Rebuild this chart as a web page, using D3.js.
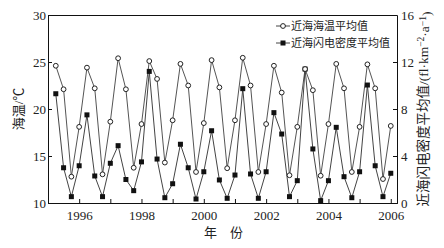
<!DOCTYPE html>
<html>
<head>
<meta charset="utf-8">
<script src="https://cdn.jsdelivr.net/npm/d3@7.9.0/dist/d3.min.js"></script>
<style>
  body { margin: 0; background: #fff; }
  svg text { font-family: 'Liberation Serif', 'Noto Sans CJK SC', serif; fill: #222; }
</style>
</head>
<body>
<div id="chart"></div>
<script>
// quarterly positions (year fraction)
const periods = [1995.25, 1995.5, 1995.75, 1996.0, 1996.25, 1996.5, 1996.75, 1997.0,
  1997.25, 1997.5, 1997.75, 1998.0, 1998.25, 1998.5, 1998.75, 1999.0,
  1999.25, 1999.5, 1999.75, 2000.0, 2000.25, 2000.5, 2000.75, 2001.0,
  2001.25, 2001.5, 2001.75, 2002.0, 2002.25, 2002.5, 2002.75, 2003.0,
  2003.25, 2003.5, 2003.75, 2004.0, 2004.25, 2004.5, 2004.75, 2005.0,
  2005.25, 2005.5, 2005.75, 2006.0];

// 近海海温平均值 (℃)
const seaTemp = [24.6, 22.1, 12.8, 18.1, 24.4, 22.2, 13.05, 18.65,
  25.4, 22.1, 13.75, 18.4, 25.1, 23.2, 14.3, 18.8,
  24.8, 22.5, 13.3, 18.5, 25.2, 22.3, 13.7, 18.8,
  25.45, 22.5, 13.3, 18.4, 24.6, 21.75, 12.95, 18.1,
  24.25, 22.0, 12.9, 18.4, 24.8, 22.2, 13.3, 18.1,
  24.75, 22.2, 12.55, 18.2];

// 近海闪电密度平均值
const flashDensity = [9.3, 3.0, 0.54, 3.17, 7.5, 2.3, 0.54, 3.38,
  4.88, 2.0, 1.05, 3.5, 11.2, 3.74, 0.45, 1.64,
  5.0, 3.0, 0.34, 2.66, 6.15, 1.96, 0.4, 2.38,
  9.73, 2.47, 0.4, 2.66, 7.69, 5.87, 0.54, 1.9,
  11.4, 4.6, 0.2, 1.9, 6.44, 2.24, 0.45, 2.66,
  10.04, 3.17, 0.54, 2.53];

const yearTicks = [1996, 1997, 1998, 1999, 2000, 2001, 2002, 2003, 2004, 2005, 2006];
const tempTicks = [10, 15, 20, 25, 30];
const densityTicks = [0, 4, 8, 12, 16];
const legendNames = ['近海海温平均值', '近海闪电密度平均值'];

const width = 444, height = 248;
const margin = { top: 15, right: 47, bottom: 45, left: 48 };

const svg = d3.select('#chart').append('svg')
  .attr('width', width)
  .attr('height', height);

const x = d3.scaleLinear().domain([1995, 2006.2]).range([margin.left, width - margin.right]);
const yT = d3.scaleLinear().domain([10, 30]).range([height - margin.bottom, margin.top]);
const yD = d3.scaleLinear().domain([0, 16]).range([height - margin.bottom, margin.top]);

// frame top line
svg.append('line')
  .attr('x1', margin.left).attr('x2', width - margin.right)
  .attr('y1', margin.top + 0.5).attr('y2', margin.top + 0.5)
  .attr('stroke', '#111');

// axes
const xAxis = svg.append('g')
  .attr('transform', `translate(0, ${height - margin.bottom})`)
  .call(d3.axisBottom(x).tickValues(yearTicks).tickSize(-4).tickPadding(8)
    .tickFormat((d) => (d % 2 === 0 ? d : '')));
const leftAxis = svg.append('g')
  .attr('transform', `translate(${margin.left}, 0)`)
  .call(d3.axisLeft(yT).tickValues(tempTicks).tickSize(-4).tickPadding(2));
const rightAxis = svg.append('g')
  .attr('transform', `translate(${width - margin.right}, 0)`)
  .call(d3.axisRight(yD).tickValues(densityTicks).tickSize(-4).tickPadding(4));

[xAxis, leftAxis, rightAxis].forEach((g) => {
  g.select('.domain').attr('stroke', '#111');
  g.selectAll('.tick line').attr('stroke', '#111');
  g.selectAll('text').attr('font-size', 13).attr('fill', '#222');
});

// series
const tempLine = d3.line().x((d, i) => x(periods[i])).y((d) => yT(d));
const densLine = d3.line().x((d, i) => x(periods[i])).y((d) => yD(d));

svg.append('path').datum(seaTemp)
  .attr('d', tempLine).attr('fill', 'none')
  .attr('stroke', '#555').attr('stroke-width', 1);
svg.append('path').datum(flashDensity)
  .attr('d', densLine).attr('fill', 'none')
  .attr('stroke', '#444').attr('stroke-width', 1);

svg.append('g').selectAll('rect')
  .data(flashDensity)
  .join('rect')
  .attr('x', (d, i) => x(periods[i]) - 2.5)
  .attr('y', (d) => yD(d) - 2.5)
  .attr('width', 5).attr('height', 5)
  .attr('fill', '#111');

svg.append('g').selectAll('circle')
  .data(seaTemp)
  .join('circle')
  .attr('cx', (d, i) => x(periods[i]))
  .attr('cy', (d) => yT(d))
  .attr('r', 2.4)
  .attr('fill', '#fff')
  .attr('stroke', '#222').attr('stroke-width', 1);

// legend
const legend = svg.append('g');
legendNames.forEach((name, i) => {
  const ly = 26 + i * 17;
  legend.append('line')
    .attr('x1', 276).attr('x2', 290).attr('y1', ly).attr('y2', ly)
    .attr('stroke', '#444');
  if (i === 0) {
    legend.append('circle').attr('cx', 283).attr('cy', ly).attr('r', 2.4)
      .attr('fill', '#fff').attr('stroke', '#222');
  } else {
    legend.append('rect').attr('x', 280.5).attr('y', ly - 2.5)
      .attr('width', 5).attr('height', 5).attr('fill', '#111');
  }
  legend.append('text')
    .attr('x', 291).attr('y', ly).attr('dy', '0.36em')
    .attr('font-size', 11)
    .text(name);
});

// axis titles
svg.append('text')
  .attr('transform', `translate(18, ${(margin.top + height - margin.bottom) / 2}) rotate(-90)`)
  .attr('text-anchor', 'middle').attr('dy', '0.35em')
  .attr('font-size', 13)
  .text('海温/℃');

svg.append('text')
  .attr('x', (margin.left + width - margin.right) / 2 + 1)
  .attr('y', 237)
  .attr('text-anchor', 'middle')
  .attr('font-size', 13)
  .text('年　份');

const rightTitle = svg.append('text')
  .attr('transform', `translate(423, ${(margin.top + height - margin.bottom) / 2}) rotate(-90)`)
  .attr('text-anchor', 'middle').attr('dy', '0.35em')
  .attr('font-size', 13.5);
rightTitle.append('tspan').text('近海闪电密度平均值/(fl·km');
rightTitle.append('tspan').attr('dy', '-0.4em').attr('font-size', 9.5).text('−2');
rightTitle.append('tspan').attr('dy', '0.4em').text('·a');
rightTitle.append('tspan').attr('dy', '-0.4em').attr('font-size', 9.5).text('−1');
rightTitle.append('tspan').attr('dy', '0.4em').text(')');
</script>
</body>
</html>
